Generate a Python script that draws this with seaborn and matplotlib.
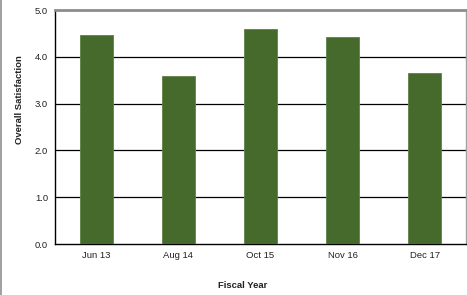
import matplotlib
matplotlib.use("Agg")
import matplotlib.pyplot as plt
import seaborn as sns
import pandas as pd
from matplotlib.lines import Line2D

categories = ["Jun 13", "Aug 14", "Oct 15", "Nov 16", "Dec 17"]
values = [4.47, 3.60, 4.60, 4.43, 3.65]
yticks = [0.0, 1.0, 2.0, 3.0, 4.0, 5.0]

sns.set_style("white")
plt.rcParams['font.family'] = ['Liberation Sans', 'DejaVu Sans']

df = pd.DataFrame({"cat": categories, "val": values})

W, H = 467, 295
fig = plt.figure(figsize=(W / 100, H / 100), dpi=100)
ax = fig.add_axes([55 / W, (H - 244) / H, (466 - 55) / W, (244 - 10) / H])

sns.barplot(data=df, x="cat", y="val", color="#466A2C", width=0.4,
            saturation=1, edgecolor="#5E8046", linewidth=0.6, ax=ax, zorder=3)

ax.set_ylim(0, 5)
ax.set_xlim(-0.5, len(categories) - 0.5)
ax.set_yticks(yticks)
ax.set_yticklabels([f"{t:.1f}" for t in yticks], fontsize=6.8, color="#222222")
for t in yticks[1:-1]:
    ax.axhline(t, color="black", linewidth=0.9, zorder=1)

ax.set_xticks(range(len(categories)))
ax.set_xticklabels(categories, fontsize=6.8, color="#222222")
ax.set_xticks([i - 0.5 for i in range(len(categories) + 1)], minor=True)
ax.tick_params(axis="x", which="major", length=0, pad=5)
ax.tick_params(axis="x", which="minor", length=3, width=0.8, color="black", direction="out")
ax.tick_params(axis="y", which="major", length=3, width=0.8, color="black", direction="out", pad=2)

for side in ["left", "bottom"]:
    ax.spines[side].set_color("black")
    ax.spines[side].set_linewidth(1.0)
ax.spines["top"].set_color("#8C8C8C")
ax.spines["top"].set_linewidth(2.0)
ax.spines["right"].set_color("#A0A0A0")
ax.spines["right"].set_linewidth(1.0)

ax.set_xlabel("")
ax.set_ylabel("")
fig.text(20 / W, 1 - 100 / H, "Overall Satisfaction", rotation=90, fontsize=6.8,
         fontweight="bold", ha="center", va="center", color="#222222")
fig.text(243 / W, 1 - 285 / H, "Fiscal Year", fontsize=6.8, fontweight="bold",
         ha="center", va="center", color="#222222")

fig.add_artist(Line2D([1.0 / W, 1.0 / W], [0, 1], color="#909090", linewidth=1.2,
                      transform=fig.transFigure))

fig.savefig("out.png", dpi=100)
